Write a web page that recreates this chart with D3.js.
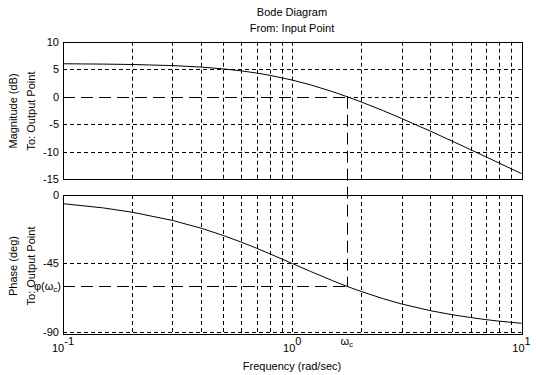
<!DOCTYPE html>
<html>
<head>
<meta charset="utf-8">
<script src="https://cdn.jsdelivr.net/npm/d3@7"></script>
<style>
  body { margin: 0; background: #fff; }
  text { font-family: Arial, "Liberation Sans", sans-serif; font-size: 11px; fill: #000; }
</style>
</head>
<body>
<div id="chart"></div>
<script>
// values
var freq     = [0.1, 0.15, 0.2, 0.3, 0.4, 0.5, 0.6, 0.7, 0.8, 1, 1.2, 1.5, 1.73, 2, 2.5, 3, 4, 5, 6, 7, 8, 10];
var magDb    = [5.98, 5.92, 5.85, 5.65, 5.38, 5.05, 4.69, 4.29, 3.87, 3.01, 2.15, 0.90, 0, -0.97, -2.58, -3.98, -6.28, -8.13, -9.66, -10.97, -12.11, -14.02];
var phaseDeg = [-5.7, -8.5, -11.3, -16.7, -21.8, -26.6, -31.0, -35.0, -38.7, -45, -50.2, -56.3, -60, -63.4, -68.2, -71.6, -76.0, -78.7, -80.5, -81.9, -82.9, -84.3];
var magTicks = [10, 5, 0, -5, -10, -15];
var phaseTicks = [0, -45, -90];
var decades = [0.1, 1, 10];
var decadeExp = ["-1", "0", "1"];
var wc = 1.73;      // crossover frequency
var phiWc = -60;    // phase at crossover

const W = 536, H = 375;

var svg = d3.select("#chart").append("svg")
  .attr("width", W)
  .attr("height", H);

var x = d3.scaleLog().domain([0.1, 10]).range([63, 521.5]);
var yMag = d3.scaleLinear().domain([-15, 10]).range([179, 41.7]);
var yPh = d3.scaleLinear().domain([-91, 0]).range([333.5, 195]);

// minor grid positions: 0.2..0.9, 1, 2..9
var gridX = [];
[0.1, 1].forEach(function(d) {
  for (var k = 1; k <= 9; k++) {
    var v = d * k;
    if (v > 0.1 + 1e-9) gridX.push(+v.toFixed(3));
  }
});

function panel(yScale, hTicks) {
  var g = svg.append("g");
  var y0 = yScale.range()[0], y1 = yScale.range()[1];
  g.selectAll(".vg").data(gridX).enter().append("line")
    .attr("x1", d => Math.round(x(d)) + 0.5).attr("x2", d => Math.round(x(d)) + 0.5)
    .attr("y1", y1).attr("y2", y0)
    .attr("stroke", "#000").attr("stroke-dasharray", "4,3");
  g.selectAll(".hg").data(hTicks).enter().append("line")
    .attr("x1", d => d.from !== undefined ? x(d.from) : x(0.1)).attr("x2", x(10))
    .attr("y1", d => Math.round(yScale(d.v)) + 0.5).attr("y2", d => Math.round(yScale(d.v)) + 0.5)
    .attr("stroke", "#000").attr("stroke-dasharray", "4,3");
  g.append("rect")
    .attr("x", 63.5).attr("y", Math.round(y1) + 0.5)
    .attr("width", Math.round(x(10)) - 63).attr("height", Math.round(y0) - Math.round(y1))
    .attr("fill", "none").attr("stroke", "#000");
  return g;
}

// magnitude panel
var gm = panel(yMag, [{v: 5}, {v: 0, from: wc}, {v: -5}, {v: -10}]);
gm.selectAll(".mt").data(magTicks).enter().append("text")
  .attr("x", 59).attr("y", d => yMag(d) + 4)
  .attr("text-anchor", "end")
  .text(d => d);

// phase panel
var gp = panel(yPh, [{v: -45}, {v: -90}]);
gp.selectAll(".pt").data(phaseTicks).enter().append("text")
  .attr("x", 59).attr("y", d => yPh(d) + 4)
  .attr("text-anchor", "end")
  .text(d => d);

// curves
var line = d3.line().x((d, i) => x(freq[i]));
svg.append("path")
  .attr("d", line.y(d => yMag(d))(magDb))
  .attr("fill", "none").attr("stroke", "#000");
svg.append("path")
  .attr("d", line.y(d => yPh(d))(phaseDeg))
  .attr("fill", "none").attr("stroke", "#000");

// crossover markers (long dashes)
var xc = Math.round(x(wc)) + 0.5;
svg.append("line")
  .attr("x1", 63).attr("x2", xc)
  .attr("y1", Math.round(yMag(0)) + 0.5).attr("y2", Math.round(yMag(0)) + 0.5)
  .attr("stroke", "#000").attr("stroke-dasharray", "12,6");
svg.append("line")
  .attr("x1", 63).attr("x2", xc)
  .attr("y1", Math.round(yPh(phiWc)) + 0.5).attr("y2", Math.round(yPh(phiWc)) + 0.5)
  .attr("stroke", "#000").attr("stroke-dasharray", "12,6");
svg.append("line")
  .attr("x1", xc).attr("x2", xc)
  .attr("y1", yMag(0)).attr("y2", yPh(phiWc))
  .attr("stroke", "#000").attr("stroke-dasharray", "12,6");

// phi(wc) label
var pl = svg.append("text")
  .attr("x", 61).attr("y", yPh(phiWc) + 4)
  .attr("text-anchor", "end");
pl.append("tspan").text("\u03C6(\u03C9");
pl.append("tspan").attr("font-size", "8px").attr("dy", 2).text("c");
pl.append("tspan").attr("dy", -2).text(")");

// x tick labels
decades.forEach(function(d, i) {
  var t = svg.append("text")
    .attr("x", x(d)).attr("y", 352)
    .attr("text-anchor", "middle");
  t.append("tspan").text("10");
  t.append("tspan").attr("dy", -7).text(decadeExp[i]);
});
var wl = svg.append("text")
  .attr("x", x(wc)).attr("y", 345)
  .attr("text-anchor", "middle");
wl.append("tspan").text("\u03C9");
wl.append("tspan").attr("font-size", "8px").attr("dy", 2).text("c");

// titles and axis labels
svg.append("text").attr("x", 292).attr("y", 16).attr("text-anchor", "middle").text("Bode Diagram");
svg.append("text").attr("x", 292).attr("y", 32).attr("text-anchor", "middle").text("From: Input Point");
svg.append("text").attr("x", 292).attr("y", 370).attr("text-anchor", "middle").text("Frequency (rad/sec)");

function ylab(txt, xp, yc) {
  svg.append("text")
    .attr("transform", "translate(" + xp + "," + yc + ") rotate(-90)")
    .attr("text-anchor", "middle")
    .text(txt);
}
ylab("Magnitude (dB)", 17, 111);
ylab("To: Output Point", 35, 111);
ylab("Phase (deg)", 17, 266);
ylab("To: Output Point", 35, 266);
</script>
</body>
</html>
